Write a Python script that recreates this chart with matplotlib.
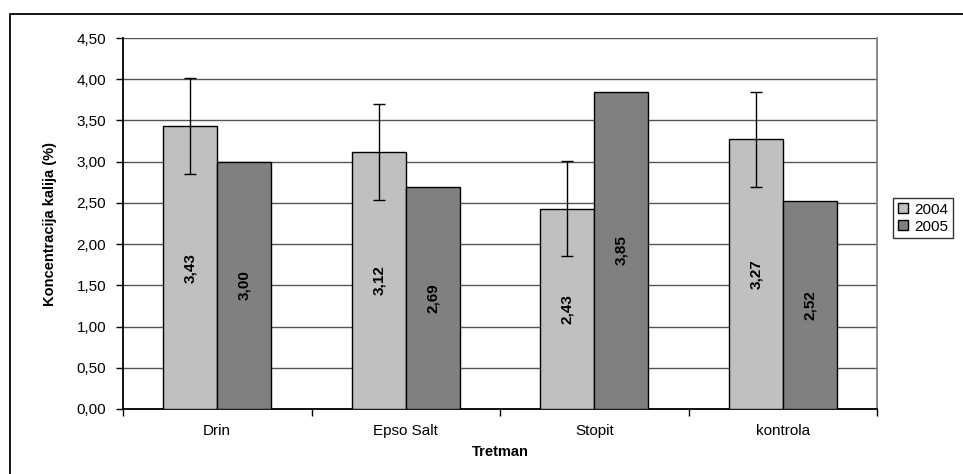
import numpy as np
import matplotlib
matplotlib.use("Agg")
import matplotlib.pyplot as plt
from matplotlib.patches import Rectangle
from matplotlib.ticker import FixedLocator, NullFormatter

plt.rcParams['font.family'] = ['Liberation Sans', 'DejaVu Sans']

# data
tretman = ['Drin', 'Epso Salt', 'Stopit', 'kontrola']
god_2004 = [3.43, 3.12, 2.43, 3.27]
god_2005 = [3.00, 2.69, 3.85, 2.52]
err_2004 = [0.58, 0.58, 0.58, 0.58]
yticks = [0.0, 0.5, 1.0, 1.5, 2.0, 2.5, 3.0, 3.5, 4.0, 4.5]

fig = plt.figure(figsize=(9.63, 4.74), dpi=100)
ax = fig.add_axes([123/963, 1 - 409/474, (877-123)/963, (409-38)/474])

x = np.arange(len(tretman))
w = 1 / 3.5

b1 = ax.bar(x - w/2, god_2004, w, color='#c0c0c0', edgecolor='black', linewidth=1,
            label='2004', zorder=3)
b2 = ax.bar(x + w/2, god_2005, w, color='#808080', edgecolor='black', linewidth=1,
            label='2005', zorder=3)
ax.errorbar(x - w/2, god_2004, yerr=err_2004, fmt='none', ecolor='black',
            elinewidth=1, capsize=4, capthick=1, zorder=4)

for bars, vals in ((b1, god_2004), (b2, god_2005)):
    for r, v in zip(bars, vals):
        ax.text(r.get_x() + r.get_width()/2, v/2, ('%.2f' % v).replace('.', ','),
                rotation=90, ha='center', va='center', fontsize=11,
                fontweight='bold', zorder=5)

ax.set_xlim(-0.5, len(tretman) - 0.5)
ax.set_ylim(0, 4.5)
ax.set_yticks(yticks)
ax.set_yticklabels([('%.2f' % t).replace('.', ',') for t in yticks], fontsize=11)
ax.yaxis.grid(True, color='#555555', linewidth=1, zorder=0)

ax.set_xticks(x)
ax.set_xticklabels(tretman, fontsize=11)
ax.tick_params(axis='x', which='major', length=0, pad=11)
ax.xaxis.set_minor_locator(FixedLocator(np.arange(-0.5, len(tretman), 1.0)))
ax.xaxis.set_minor_formatter(NullFormatter())
ax.tick_params(axis='x', which='minor', length=5, width=1, direction='out')
ax.tick_params(axis='y', length=5, width=1, direction='out', pad=7)

for s in ('left', 'bottom'):
    ax.spines[s].set_color('black')
    ax.spines[s].set_linewidth(1.3)
ax.spines['right'].set_color('#808080')
ax.spines['right'].set_linewidth(1.3)
ax.spines['top'].set_visible(False)

ax.set_xlabel('Tretman', fontsize=10.5, fontweight='bold', labelpad=5)
ax.set_ylabel('Koncentracija kalija (%)', fontsize=10.5, fontweight='bold',
              labelpad=14)

leg = fig.legend(handles=[b1, b2], loc='upper left',
                 bbox_to_anchor=(893/963, 1 - 198/474), fontsize=11,
                 frameon=True, fancybox=False, edgecolor='black',
                 handlelength=0.7, handleheight=0.6, handletextpad=0.4,
                 borderpad=0.3, labelspacing=0.2, borderaxespad=0)
leg.get_frame().set_linewidth(1)

# outer chart border
fig.patches.append(Rectangle((10/963, -0.1), 1.1, 1 - 14/474 + 0.1,
                             transform=fig.transFigure, fill=False,
                             edgecolor='black', linewidth=1.3))

fig.savefig('out.png', dpi=100)
